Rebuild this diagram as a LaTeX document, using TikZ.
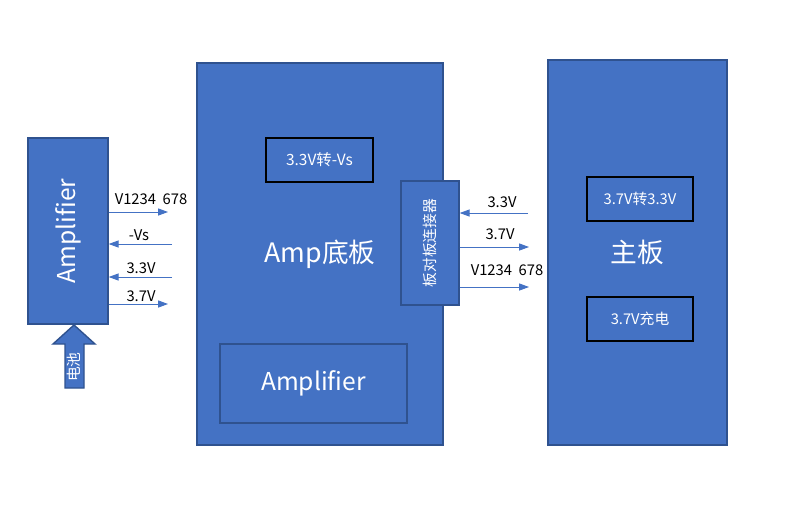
\documentclass[tikz,border=0pt]{standalone}
\usepackage{fontspec}
\setmainfont{Noto Sans CJK SC}
\usetikzlibrary{arrows.meta}
\definecolor{boardblue}{HTML}{4472C4}
\definecolor{edgeblue}{HTML}{2F528F}
\newlength\px \setlength\px{0.025cm}

\begin{document}
\begin{tikzpicture}[x=\px, y=-\px,
  board/.style={draw=edgeblue, fill=boardblue, line width=1pt, text=white, inner sep=0pt},
  part/.style={draw=black, fill=boardblue, line width=1.4pt, text=white, inner sep=0pt,
    minimum width=106\px, minimum height=44\px, font=\fontsize{10.5}{12}\selectfont},
  sig/.style={draw=boardblue, line width=0.6pt, -{Triangle[length=7pt,width=5pt]}},
  lab/.style={text=black, inner sep=0pt, font=\fontsize{10.5}{12}\selectfont}]
\useasboundingbox (0,0) rectangle (800,516);

% left amplifier and battery
\node[board, minimum width=80\px, minimum height=186\px] (amp) at (68,231) {};
\node[text=white, rotate=90, font=\fontsize{17.5}{20}\selectfont] (amptxt) at (amp) {Amplifier};
\draw[edgeblue, fill=boardblue, line width=1pt] (65,388) -- (65,344) -- (53,344) -- (74,325)
  -- (95,344) -- (84,344) -- (84,388) -- cycle;
\node[text=white, rotate=90, font=\fontsize{10.5}{12}\selectfont] (bat) at (74,367) {电池};

% amp base board
\node[board, minimum width=246\px, minimum height=382\px, font=\fontsize{19}{22}\selectfont] (base) at (320,254) {Amp底板};
\node[part, minimum width=107\px, font=\fontsize{11}{13}\selectfont] (neg) at (319.5,160) {3.3V转-Vs};
\node[board, minimum width=187\px, minimum height=79\px, font=\fontsize{17.5}{20}\selectfont] (inamp) at (313.5,383.5) {Amplifier};
\node[board, minimum width=58\px, minimum height=124\px] (conn) at (430,243) {};
\node[text=white, rotate=90, font=\fontsize{10.5}{12}\selectfont] (conntxt) at (conn) {板对板连接器};

% main board
\node[board, minimum width=179\px, minimum height=385\px, font=\fontsize{19}{22}\selectfont] (main) at (637.5,252.5) {主板};
\node[part] (ldo) at (640,199) {3.7V转3.3V};
\node[part] (chg) at (640,319) {3.7V充电};

% signals on the left
\coordinate (vout) at (168,212);
\coordinate (vsin) at (172,244);
\coordinate (l33) at (172,277);
\coordinate (l37) at (168,304);
\draw[sig] (amp.east |- vout) -- (vout);
\draw[sig] (vsin) -- (vsin -| amp.east);
\draw[sig] (l33) -- (l33 -| amp.east);
\draw[sig] (amp.east |- l37) -- (l37);
\node[lab] (vlab) at (151,199) {V1234~~678};
\node[lab] (vslab) at (139,235) {-Vs};
\node[lab] (l33lab) at (141,268) {3.3V};
\node[lab] (l37lab) at (141,296) {3.7V};

% signals on the right
\coordinate (r33) at (528,213);
\coordinate (r37) at (529,247);
\coordinate (rv) at (529,287);
\draw[sig] (r33) -- (r33 -| conn.east);
\draw[sig] (conn.east |- r37) -- (r37);
\draw[sig] (conn.east |- rv) -- (rv);
\node[lab] (r33lab) at (502,202) {3.3V};
\node[lab] (r37lab) at (500,234) {3.7V};
\node[lab] (rvlab) at (507,270) {V1234~~678};
\end{tikzpicture}
\end{document}
